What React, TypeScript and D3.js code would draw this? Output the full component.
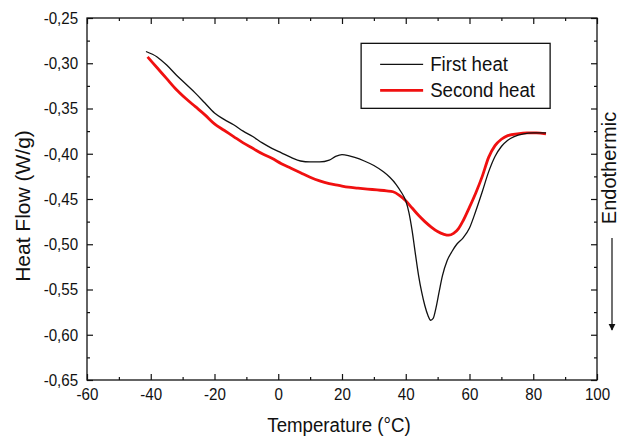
import React, { useRef, useEffect } from "react";
import * as d3 from "d3";

// First heat (black)
const firstTemp = [
  -41.5, -38, -35, -32, -29, -26, -23, -20, -17, -14, -11, -8, -5, -2, 1, 4, 7,
  10, 13, 16, 18, 20, 22, 24, 27, 30, 33, 35, 37, 38.5, 40, 41, 42, 43, 44, 45,
  46, 47, 47.8, 48.6, 49.5, 50.5, 51.5, 53, 54.5, 56, 58, 60, 62, 64, 66, 68,
  70, 72, 74, 77, 80, 84,
];
const firstFlow = [
  -0.287, -0.293, -0.302, -0.313, -0.323, -0.333, -0.344, -0.355, -0.362,
  -0.368, -0.375, -0.381, -0.388, -0.394, -0.399, -0.404, -0.408, -0.409,
  -0.409, -0.407, -0.403, -0.401, -0.402, -0.404, -0.408, -0.413, -0.42,
  -0.426, -0.434, -0.442, -0.452, -0.465, -0.485, -0.51, -0.534, -0.553,
  -0.568, -0.579, -0.584, -0.582, -0.57, -0.552, -0.535, -0.518, -0.508, -0.5,
  -0.493, -0.482, -0.463, -0.442, -0.42, -0.403, -0.392, -0.385, -0.381,
  -0.378, -0.377, -0.377,
];

// Second heat (red)
const secondTemp = [
  -41, -38, -35, -32, -29, -26, -23, -20, -17, -14, -11, -8, -5, -2, 1, 4, 7,
  10, 13, 16, 19, 22, 25, 28, 31, 34, 36, 38, 40, 42, 44, 46, 48, 50, 52, 53.5,
  55, 56.5, 58, 60, 62, 64, 66, 68, 70, 72, 75, 78, 81, 84,
];
const secondFlow = [
  -0.293, -0.305, -0.317, -0.329, -0.339, -0.348, -0.357, -0.367, -0.374,
  -0.381, -0.388, -0.394, -0.4, -0.405, -0.411, -0.416, -0.421, -0.426, -0.43,
  -0.433, -0.435, -0.437, -0.438, -0.439, -0.44, -0.441, -0.442, -0.446,
  -0.452, -0.46, -0.468, -0.475, -0.481, -0.486, -0.489, -0.49, -0.488,
  -0.483, -0.474, -0.459, -0.443, -0.425, -0.404, -0.391, -0.384, -0.38,
  -0.378, -0.377, -0.377, -0.378,
];

const xTicks = [-60, -40, -20, 0, 20, 40, 60, 80, 100];
const yTicks = [-0.25, -0.3, -0.35, -0.4, -0.45, -0.5, -0.55, -0.6, -0.65];
const seriesNames = ["First heat", "Second heat"];

const FONT = "'Liberation Sans', Arial, sans-serif";
// the source picture is squeezed horizontally, so horizontal text is too
const SQ = 0.89;

const App: React.FC = () => {
  const svgRef = useRef<SVGSVGElement | null>(null);
  const width = 620;
  const height = 438;

  useEffect(() => {
    const svg = d3.select(svgRef.current);
    svg.selectAll("*").remove();

    const margin = { top: 18, right: 23, bottom: 58, left: 87 };
    const innerWidth = width - margin.left - margin.right;
    const innerHeight = height - margin.top - margin.bottom;

    const x = d3.scaleLinear().domain([-60, 100]).range([0, innerWidth]);
    const y = d3.scaleLinear().domain([-0.65, -0.25]).range([innerHeight, 0]);

    const locale = d3.formatLocale({
      decimal: ",",
      thousands: ".",
      grouping: [3],
      currency: ["", ""],
      minus: "-",
    });
    const fmtY = locale.format(".2f");
    const fmtX = locale.format("d");

    const g = svg
      .append("g")
      .attr("transform", `translate(${margin.left},${margin.top})`);

    // Minor ticks
    const xMinor = d3.range(-50, 100, 20);
    const yMinor = d3.range(-0.625, -0.25, 0.05);

    const styleAxis = (sel: any) => {
      sel.select(".domain").remove();
      sel.selectAll("line").attr("stroke", "#111").attr("stroke-width", 1.2);
      sel
        .selectAll("text")
        .attr("font-family", FONT)
        .attr("font-size", 17)
        .attr("fill", "#111")
        .attr("transform", `scale(${SQ},1)`);
    };

    // bottom
    g.append("g")
      .attr("transform", `translate(0,${innerHeight})`)
      .call(
        d3.axisBottom(x).tickValues(xTicks).tickSize(-6).tickPadding(8)
          .tickFormat((d: any) => fmtX(d))
      )
      .call(styleAxis);
    g.append("g")
      .attr("transform", `translate(0,${innerHeight})`)
      .call(d3.axisBottom(x).tickValues(xMinor).tickSize(-3).tickFormat(() => ""))
      .call(styleAxis);
    // top
    g.append("g")
      .call(d3.axisTop(x).tickValues(xTicks).tickSize(-6).tickFormat(() => ""))
      .call(styleAxis);
    g.append("g")
      .call(d3.axisTop(x).tickValues(xMinor).tickSize(-3).tickFormat(() => ""))
      .call(styleAxis);
    // left
    g.append("g")
      .call(
        d3.axisLeft(y).tickValues(yTicks).tickSize(-6).tickPadding(10)
          .tickFormat((d: any) => fmtY(d))
      )
      .call(styleAxis);
    g.append("g")
      .call(d3.axisLeft(y).tickValues(yMinor).tickSize(-3).tickFormat(() => ""))
      .call(styleAxis);
    // right
    g.append("g")
      .attr("transform", `translate(${innerWidth},0)`)
      .call(d3.axisRight(y).tickValues(yTicks).tickSize(-6).tickFormat(() => ""))
      .call(styleAxis);
    g.append("g")
      .attr("transform", `translate(${innerWidth},0)`)
      .call(d3.axisRight(y).tickValues(yMinor).tickSize(-3).tickFormat(() => ""))
      .call(styleAxis);

    // Frame
    g.append("rect")
      .attr("x", 0)
      .attr("y", 0)
      .attr("width", innerWidth)
      .attr("height", innerHeight)
      .attr("fill", "none")
      .attr("stroke", "#111")
      .attr("stroke-width", 1.3);

    const line = d3
      .line<[number, number]>()
      .x((d) => x(d[0]))
      .y((d) => y(d[1]))
      .curve(d3.curveMonotoneX);

    const first = firstTemp.map((t, i) => [t, firstFlow[i]] as [number, number]);
    const second = secondTemp.map((t, i) => [t, secondFlow[i]] as [number, number]);

    g.append("path")
      .datum(second)
      .attr("fill", "none")
      .attr("stroke", "#f01010")
      .attr("stroke-width", 2.8)
      .attr("d", line);

    g.append("path")
      .datum(first)
      .attr("fill", "none")
      .attr("stroke", "#111")
      .attr("stroke-width", 1.3)
      .attr("d", line);

    // Legend
    const lg = g.append("g").attr("transform", `translate(${x(26)},${y(-0.278)})`);
    lg.append("rect")
      .attr("width", 189)
      .attr("height", 65)
      .attr("fill", "white")
      .attr("stroke", "#111")
      .attr("stroke-width", 1.3);
    const colors = ["#111", "#f01010"];
    const widths = [1.3, 2.8];
    seriesNames.forEach((name, i) => {
      const yy = 21 + i * 26;
      lg.append("line")
        .attr("x1", 19)
        .attr("x2", 62)
        .attr("y1", yy)
        .attr("y2", yy)
        .attr("stroke", colors[i])
        .attr("stroke-width", widths[i]);
      lg.append("text")
        .attr("transform", `translate(69,${yy + 7}) scale(${SQ},1)`)
        .attr("font-family", FONT)
        .attr("font-size", 21)
        .attr("fill", "#111")
        .text(name);
    });

    // Axis titles
    svg
      .append("text")
      .attr(
        "transform",
        `translate(${margin.left + innerWidth / 2 - 3},432) scale(${SQ},1)`
      )
      .attr("text-anchor", "middle")
      .attr("font-family", FONT)
      .attr("font-size", 21)
      .attr("fill", "#111")
      .text("Temperature (°C)");

    svg
      .append("text")
      .attr("transform", `translate(30,206) rotate(-90)`)
      .attr("text-anchor", "middle")
      .attr("font-family", FONT)
      .attr("font-size", 21)
      .attr("fill", "#111")
      .text("Heat Flow (W/g)");

    // Endothermic annotation
    svg
      .append("text")
      .attr("transform", `translate(616,168) rotate(-90)`)
      .attr("text-anchor", "middle")
      .attr("font-family", FONT)
      .attr("font-size", 20)
      .attr("fill", "#111")
      .text("Endothermic");

    svg
      .append("defs")
      .append("marker")
      .attr("id", "arrow")
      .attr("viewBox", "0 0 10 10")
      .attr("refX", 9)
      .attr("refY", 5)
      .attr("markerWidth", 6)
      .attr("markerHeight", 8)
      .attr("orient", "auto")
      .append("path")
      .attr("d", "M0,0 L10,5 L0,10 Z")
      .attr("fill", "#111");

    svg
      .append("line")
      .attr("x1", 612)
      .attr("x2", 612)
      .attr("y1", 238)
      .attr("y2", 330)
      .attr("stroke", "#111")
      .attr("stroke-width", 1.2)
      .attr("marker-end", "url(#arrow)");
  }, []);

  return (
    <svg
      ref={svgRef}
      width={width}
      height={height}
      style={{ position: "absolute", left: 0, top: 0, background: "white" }}
    />
  );
};

export default App;
